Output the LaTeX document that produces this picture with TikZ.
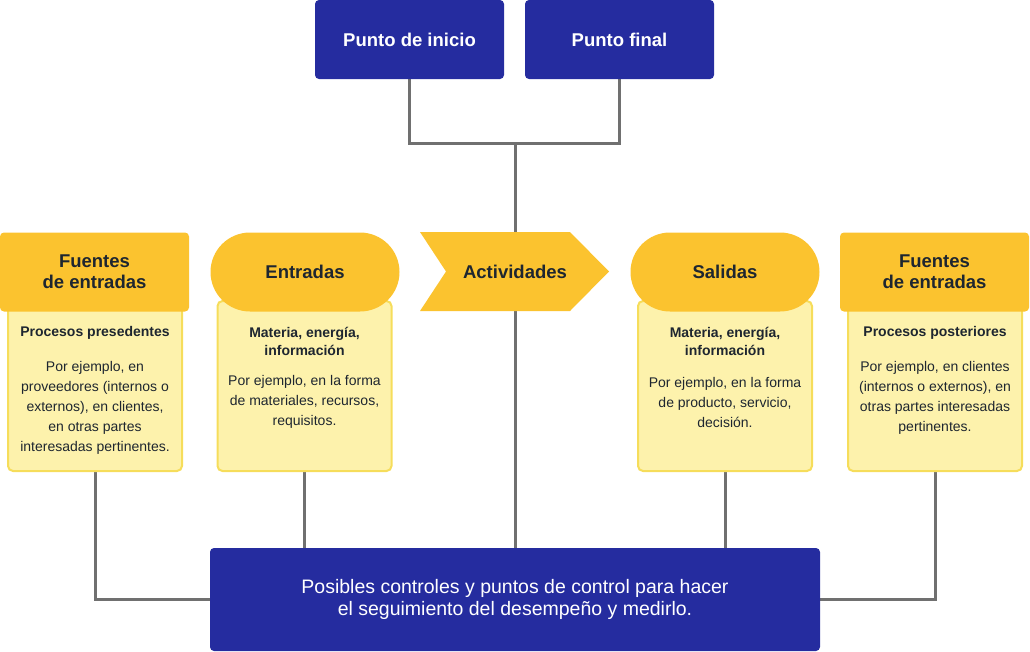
\documentclass[tikz,border=0pt]{standalone}
\usepackage{fontspec}
\setmainfont{Liberation Sans}
\usetikzlibrary{positioning,backgrounds}
\definecolor{deepBlue}{RGB}{37,44,159}
\definecolor{sunYellow}{RGB}{251,195,47}
\definecolor{paleYellow}{RGB}{253,242,172}
\definecolor{edgeYellow}{RGB}{246,221,91}
\definecolor{linkGray}{RGB}{112,112,112}
\definecolor{inkColor}{RGB}{30,38,48}
\tikzstyle{diagram} = [x = 1pt, y = -1pt]
\tikzstyle{blueBox} = [fill=deepBlue, text=white, rounded corners = 4pt, inner sep = 0pt, align=center]
\tikzstyle{startBox} = [blueBox, minimum width = 189pt, minimum height = 79pt, font=\fontsize{18.5}{21}\selectfont\bfseries]
\tikzstyle{headerBox} = [fill=sunYellow, text=inkColor, inner sep = 0pt, minimum width = 189pt, minimum height = 79pt, align=center, font=\fontsize{18.5}{21}\selectfont\bfseries]
\tikzstyle{squareHeader} = [headerBox, rounded corners = 4pt]
\tikzstyle{roundHeader} = [headerBox, rounded corners = 39.5pt]
\tikzstyle{detailStyle} = [draw=edgeYellow, fill=paleYellow, line width = 2pt, rounded corners = 5pt, minimum width = 174pt, minimum height = 170pt, inner sep = 0pt]
\tikzstyle{subTitle} = [text=inkColor, inner sep = 0pt, align=center, font=\fontsize{14}{17.5}\selectfont\bfseries]
\tikzstyle{bodyText} = [text=inkColor, inner sep = 0pt, align=center, font=\fontsize{14}{20}\selectfont]
\tikzstyle{linkLine} = [color=linkGray, line width = 3pt]
\newcommand{\detailBox}[2]{\node [detailStyle] (#1) at (#2, 386) {};}
\newcommand{\stageHeader}[4]{\node [#2] (#1) at (#3, 272) {#4};}

\begin{document}
\begin{tikzpicture}[diagram]
  \useasboundingbox (0,0) rectangle (1030,651);
  % top boxes
  \node [startBox] (inicio) at (409.5, 39.5) {Punto de inicio};
  \node [startBox] (final) at (619.5, 39.5) {Punto final};
  % yellow detail boxes
  \detailBox{fuentesInBox}{95}
  \detailBox{entradasBox}{304.5}
  \detailBox{salidasBox}{725}
  \detailBox{fuentesOutBox}{935}
  % headers
  \stageHeader{fuentesIn}{squareHeader}{94.5}{Fuentes\\de entradas}
  \stageHeader{entradas}{roundHeader}{305}{Entradas}
  \stageHeader{salidas}{roundHeader}{725}{Salidas}
  \stageHeader{fuentesOut}{squareHeader}{934.5}{Fuentes\\de entradas}
  \fill [sunYellow] (420,232) -- (570,232) -- (609,271.5) -- (570,311) -- (420,311) -- (446,271.5) -- cycle;
  \node [headerBox, fill=none] (actividades) at (515, 272) {Actividades};
  % texts
  \node [subTitle] (fuentesInSub) at (95, 333) {Procesos presedentes};
  \node [bodyText] (fuentesInText) at (95, 408) {Por ejemplo, en\\proveedores (internos o\\externos), en clientes,\\en otras partes\\interesadas pertinentes.};
  \node [subTitle] (entradasSub) at (304.5, 341.5) {Materia, energía,\\información};
  \node [bodyText] (entradasText) at (304.5, 402) {Por ejemplo, en la forma\\de materiales, recursos,\\requisitos.};
  \node [subTitle] (salidasSub) at (725, 341.5) {Materia, energía,\\información};
  \node [bodyText] (salidasText) at (725, 402) {Por ejemplo, en la forma\\de producto, servicio,\\decisión.};
  \node [subTitle] (fuentesOutSub) at (935, 333) {Procesos posteriores};
  \node [bodyText] (fuentesOutText) at (935, 398) {Por ejemplo, en clientes\\(internos o externos), en\\otras partes interesadas\\pertinentes.};
  % bottom box
  \node [blueBox, minimum width = 610pt, minimum height = 103pt, font=\fontsize{19.5}{21.5}\selectfont] (control) at (515, 599.5) {Posibles controles y puntos de control para hacer\\el seguimiento del desempeño y medirlo.};
  % connectors
  \begin{scope}[on background layer]
    \coordinate (junction) at (515, 143);
    \draw [linkLine] (inicio.south) |- (junction) -| (final.south);
    \draw [linkLine] (junction) -- (control.north);
    \draw [linkLine] (fuentesInBox.south) |- (control.west);
    \draw [linkLine] (entradasBox.south) -- (entradasBox.south |- control.north);
    \draw [linkLine] (salidasBox.south) -- (salidasBox.south |- control.north);
    \draw [linkLine] (fuentesOutBox.south) |- (control.east);
  \end{scope}
\end{tikzpicture}
\end{document}
